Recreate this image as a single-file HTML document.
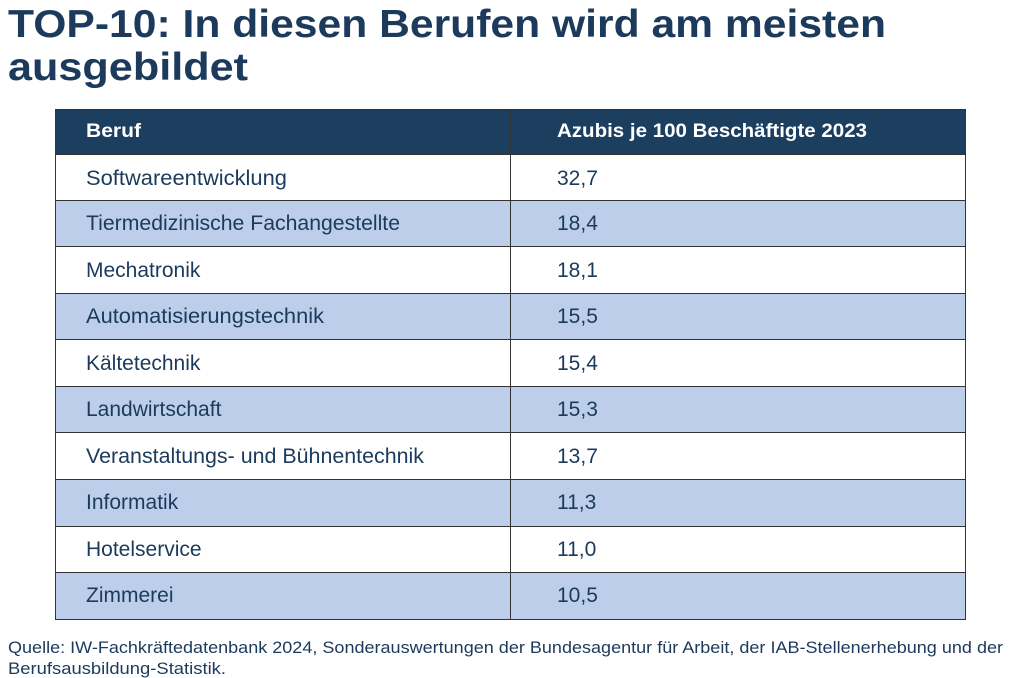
<!DOCTYPE html>
<html><head><meta charset="utf-8"><style>
html,body{margin:0;padding:0;background:#fff;}
svg{display:block;font-family:"Liberation Sans",sans-serif;}
</style></head><body>
<svg width="1020" height="678" viewBox="0 0 1020 678" xmlns="http://www.w3.org/2000/svg">
<g fill="#1b3a5c" font-weight="bold" font-size="39">
<text x="8" y="37" textLength="878" lengthAdjust="spacingAndGlyphs">TOP-10: In diesen Berufen wird am meisten</text>
<text x="8" y="80" textLength="240" lengthAdjust="spacingAndGlyphs">ausgebildet</text>
</g>
<rect x="55" y="109" width="911" height="45" fill="#1c3f60"/>
<g fill="#fff" font-weight="bold" font-size="19.5">
<text x="86" y="137" textLength="55" lengthAdjust="spacingAndGlyphs">Beruf</text>
<text x="557" y="137" textLength="310" lengthAdjust="spacingAndGlyphs">Azubis je 100 Beschäftigte 2023</text>
</g>
<g fill="#1b3a5c" stroke="#333" stroke-width="1">
<rect x="55.5" y="154.5" width="910" height="46" fill="#fff"/>
<rect x="55.5" y="200.5" width="910" height="46" fill="#bccee9"/>
<rect x="55.5" y="246.5" width="910" height="47" fill="#fff"/>
<rect x="55.5" y="293.5" width="910" height="46" fill="#bccee9"/>
<rect x="55.5" y="339.5" width="910" height="47" fill="#fff"/>
<rect x="55.5" y="386.5" width="910" height="46" fill="#bccee9"/>
<rect x="55.5" y="432.5" width="910" height="47" fill="#fff"/>
<rect x="55.5" y="479.5" width="910" height="47" fill="#bccee9"/>
<rect x="55.5" y="526.5" width="910" height="46" fill="#fff"/>
<rect x="55.5" y="572.5" width="910" height="47" fill="#bccee9"/>
<line x1="510.5" y1="109" x2="510.5" y2="620"/>
<line x1="55.5" y1="109" x2="55.5" y2="154"/>
<line x1="965.5" y1="109" x2="965.5" y2="154"/>
<line x1="55" y1="109.5" x2="966" y2="109.5"/>
</g>
<g font-size="21" fill="#1b3a5c">
<text x="86" y="185" textLength="201" lengthAdjust="spacingAndGlyphs">Softwareentwicklung</text><text x="557" y="185">32,7</text>
<text x="86" y="230" textLength="314" lengthAdjust="spacingAndGlyphs">Tiermedizinische Fachangestellte</text><text x="557" y="230">18,4</text>
<text x="86" y="277">Mechatronik</text><text x="557" y="277">18,1</text>
<text x="86" y="323" textLength="238" lengthAdjust="spacingAndGlyphs">Automatisierungstechnik</text><text x="557" y="323">15,5</text>
<text x="86" y="370">Kältetechnik</text><text x="557" y="370">15,4</text>
<text x="86" y="416">Landwirtschaft</text><text x="557" y="416">15,3</text>
<text x="86" y="463" textLength="338" lengthAdjust="spacingAndGlyphs">Veranstaltungs- und Bühnentechnik</text><text x="557" y="463">13,7</text>
<text x="86" y="509">Informatik</text><text x="557" y="509">11,3</text>
<text x="86" y="556">Hotelservice</text><text x="557" y="556">11,0</text>
<text x="86" y="602">Zimmerei</text><text x="557" y="602">10,5</text>
</g>
<g font-size="16.5" fill="#1b3a5c">
<text x="8" y="653" textLength="995" lengthAdjust="spacingAndGlyphs">Quelle: IW-Fachkräftedatenbank 2024, Sonderauswertungen der Bundesagentur für Arbeit, der IAB-Stellenerhebung und der</text>
<text x="8" y="674" textLength="218" lengthAdjust="spacingAndGlyphs">Berufsausbildung-Statistik.</text>
</g>
</svg>
</body></html>
